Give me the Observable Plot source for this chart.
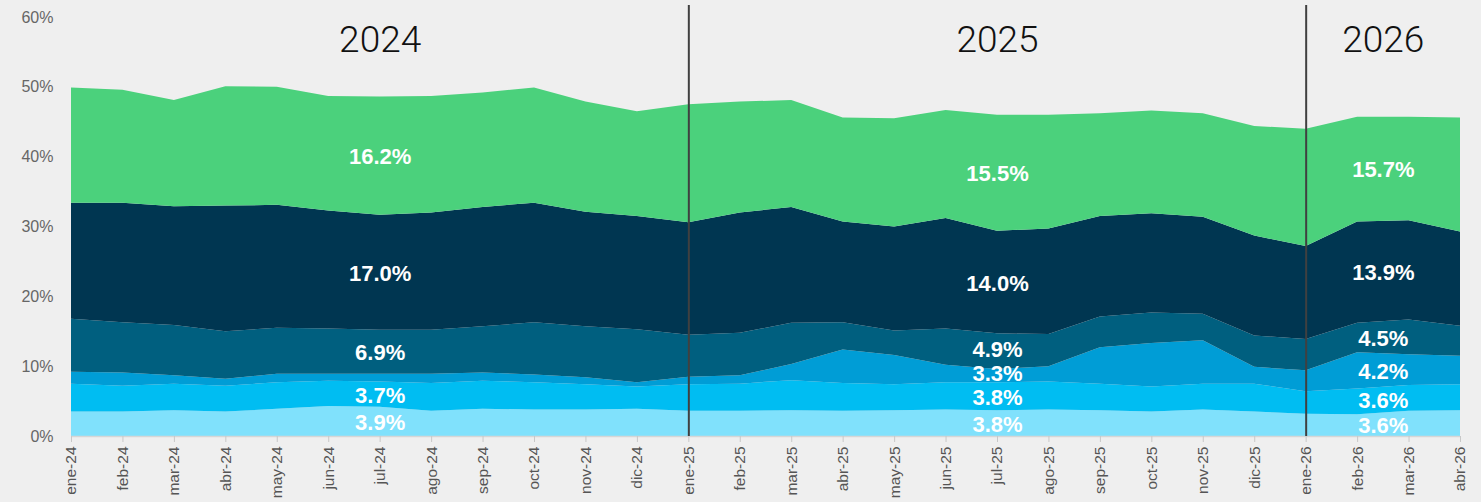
<!DOCTYPE html>
<html>
<head>
<meta charset="utf-8">
<script src="https://cdn.jsdelivr.net/npm/d3@7"></script>
<script src="https://cdn.jsdelivr.net/npm/@observablehq/plot@0.6"></script>
<style>
  html, body { margin: 0; padding: 0; background: #efefef; }
  #chart svg { display: block; }
</style>
</head>
<body>
<div id="chart"></div>
<script>
// ---- Data ----
const months = ["ene-24","feb-24","mar-24","abr-24","may-24","jun-24","jul-24","ago-24","sep-24","oct-24","nov-24","dic-24",
                "ene-25","feb-25","mar-25","abr-25","may-25","jun-25","jul-25","ago-25","sep-25","oct-25","nov-25","dic-25",
                "ene-26","feb-26","mar-26","abr-26"];

const seriesNames = ["Serie 1","Serie 2","Serie 3","Serie 4","Serie 5","Serie 6"];
const seriesColors = ["#80e1fc","#00bdf2","#009dd6","#005f7f","#003651","#4bd17c"];

const serie1 = [3.5,3.5,3.7,3.5,3.9,4.3,4.2,3.6,3.9,3.8,3.8,3.9, 3.6,3.6,3.7,3.6,3.7,3.8,3.7,3.8,3.7,3.5,3.8,3.5, 3.2,3.1,3.6,3.7];
const serie2 = [4.0,3.7,3.8,3.7,3.8,3.6,3.6,4.0,4.0,3.9,3.6,3.2, 3.8,3.9,4.3,4.0,3.7,3.9,4.0,4.0,3.8,3.6,3.7,4.0, 3.2,3.7,3.7,3.7];
const serie3 = [1.7,1.9,1.2,1.0,1.2,1.0,1.1,1.3,1.2,1.1,1.0,0.6, 1.1,1.2,2.3,4.8,4.2,2.5,1.9,2.2,5.2,6.2,6.2,2.4, 3.0,5.2,4.4,4.1];
const serie4 = [7.6,7.2,7.2,6.8,6.6,6.5,6.3,6.3,6.6,7.5,7.3,7.6, 6.0,6.1,5.9,3.9,3.5,5.2,5.1,4.6,4.4,4.4,3.8,4.5, 4.5,4.2,5.0,4.3];
const serie5 = [16.6,17.1,17.0,18.0,17.6,16.9,16.5,16.8,17.1,17.1,16.4,16.2, 16.1,17.2,16.6,14.4,14.9,15.8,14.7,15.1,14.4,14.2,13.9,14.3, 13.3,14.5,14.2,13.5];
const serie6 = [16.5,16.2,15.2,17.1,16.9,16.4,16.9,16.7,16.4,16.5,15.8,15.0, 16.9,15.9,15.3,14.9,15.5,15.5,16.6,16.3,14.7,14.7,14.8,15.7, 16.8,15.0,14.8,16.3];

const yTicks = [0,10,20,30,40,50,60];
const years = ["2024","2025","2026"];
const yearStart = ["ene-25","ene-26"];          // separators
const yearAnchor = [6, 18, 25.5];                // month index where the year's labels sit
const labels2024 = ["3.9%","3.7%","","6.9%","17.0%","16.2%"];
const labels2025 = ["3.8%","3.8%","3.3%","4.9%","14.0%","15.5%"];
const labels2026 = ["3.6%","3.6%","4.2%","4.5%","13.9%","15.7%"];

// ---- Build tables ----
const allSeries = [serie1, serie2, serie3, serie4, serie5, serie6];
const data = [];
allSeries.forEach((vals, s) => vals.forEach((v, i) => data.push({i, v, serie: seriesNames[s]})));

// label positions: middle of each stacked band at the anchor month, pushed apart when too close
function cumulativeAt(x) {
  const a = Math.floor(x), b = Math.ceil(x), t = x - a;
  let lo = 0; const out = [];
  allSeries.forEach(vals => {
    const v = vals[a] * (1 - t) + vals[b] * t;
    out.push([lo, lo + v]); lo += v;
  });
  return out;
}
const minGap = 3.45; // in % units (about one label height)
const yearLabelSets = [labels2024, labels2025, labels2026];
const bandLabels = [];
yearLabelSets.forEach((set, k) => {
  const bands = cumulativeAt(yearAnchor[k]);
  let prev = -Infinity;
  set.forEach((txt, s) => {
    if (!txt) return;
    let y = (bands[s][0] + bands[s][1]) / 2;
    y = Math.max(y, prev + minGap);
    prev = y;
    bandLabels.push({x: yearAnchor[k], y, text: txt});
  });
});
const yearTitles = years.map((t, k) => ({x: yearAnchor[k], text: t}));
const separators = yearStart.map(m => months.indexOf(m));

const chart = Plot.plot({
  width: 1481,
  height: 502,
  marginLeft: 71,
  marginRight: 21,
  marginTop: 17,
  marginBottom: 66,
  style: {background: "transparent", fontFamily: "Liberation Sans, Arial, sans-serif"},
  x: {type: "linear", domain: [0, months.length - 1]},
  y: {domain: [0, 60]},
  color: {domain: seriesNames, range: seriesColors},
  marks: [
    Plot.areaY(data, {x: "i", y: "v", fill: "serie", z: "serie", order: seriesNames, curve: "linear"}),
    Plot.ruleY([0], {stroke: "#d6d6d6", strokeWidth: 1.5}),
    Plot.axisY({ticks: yTicks, tickFormat: d => d + "%", tickSize: 0, tickPadding: 18, fontSize: 16, fill: "#666", label: null,
                style: {letterSpacing: "0.6px"}}),
    Plot.axisX({ticks: d3.range(months.length), tickFormat: i => months[i], tickRotate: -90, tickSize: 6, tickPadding: 4,
                stroke: "#c8c8c8", fill: "#555", fontSize: 15.5, label: null, style: {letterSpacing: "0.7px"}}),
    Plot.ruleX(separators, {x: d => d, stroke: "#404040", strokeWidth: 2, insetTop: -12}),
    Plot.text(yearTitles, {x: "x", text: "text", frameAnchor: "top", lineAnchor: "middle", dy: 23, fontSize: 37, fontWeight: 300,
                           fontFamily: "Roboto, Liberation Sans, sans-serif", fill: "#111"}),
    Plot.text(bandLabels, {x: "x", y: "y", text: "text", dy: 1, fill: "white", fontSize: 22, fontWeight: "bold",
                           fontFamily: "Liberation Sans, Arial, sans-serif"})
  ]
});
document.getElementById("chart").appendChild(chart);
</script>
</body>
</html>
